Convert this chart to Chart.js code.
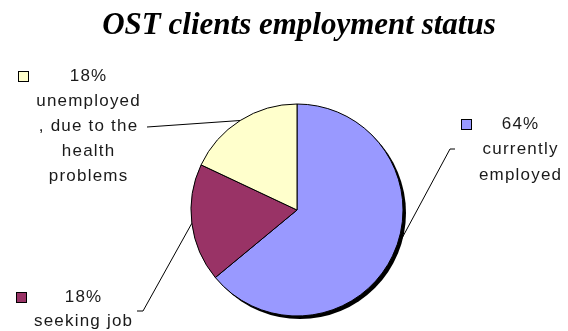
<!DOCTYPE html>
<html>
<head>
<meta charset="utf-8">
<script src="https://cdn.jsdelivr.net/npm/chart.js@4"></script>
<style>
  html, body { margin: 0; padding: 0; background: #fff; }
  #wrap { width: 568px; height: 331px; }
</style>
</head>
<body>
<div id="wrap"><canvas id="chart" width="568" height="331"></canvas></div>
<script>
// data
const categories = ["currently employed", "seeking job", "unemployed, due to the health problems"];
const shares = [64, 18, 18];
const colors = ["#9999FF", "#993366", "#FFFFCC"];

// label text lines (first line is the percent)
const labelLines = [
    ["64%", "currently", "employed"],
    ["18%", "seeking job"],
    ["18%", "unemployed", ", due to the", "health", "problems"]
];

// where each label block sits and where its leader line ends
const labelBox = [
    { keyX: 461, keyY: 119, textX: 520, textY: 124, lineH: 25.5, tail: [[450, 149], [455, 149]] },
    { keyX: 16, keyY: 292, textX: 83, textY: 297, lineH: 24, tail: [[143, 311], [137, 311]] },
    { keyX: 18, keyY: 71, textX: 88, textY: 76, lineH: 25, tail: [[147, 127]] }
];

const titleText = "OST clients employment status";

// shadow behind the pie
const shadowPlugin = {
    id: "pieShadow",
    beforeDatasetsDraw(chart) {
        const arc = chart.getDatasetMeta(0).data[0];
        if (!arc) return;
        const ctx = chart.ctx;
        ctx.save();
        ctx.fillStyle = "#000";
        ctx.beginPath();
        ctx.arc(arc.x + 3, arc.y + 3, arc.outerRadius, 0, Math.PI * 2);
        ctx.fill();
        ctx.restore();
    }
};

// title, labels and leader lines
const labelPlugin = {
    id: "pieLabels",
    afterDatasetsDraw(chart) {
        const ctx = chart.ctx;
        const meta = chart.getDatasetMeta(0);

        ctx.save();
        ctx.fillStyle = "#000";
        ctx.font = "italic bold 31px 'Liberation Serif', 'Times New Roman', serif";
        ctx.textAlign = "center";
        ctx.textBaseline = "alphabetic";
        ctx.fillText(titleText, 299, 34);

        meta.data.forEach((arc, i) => {
            const box = labelBox[i];
            const mid = (arc.startAngle + arc.endAngle) / 2;
            const px = arc.x + Math.cos(mid) * arc.outerRadius;
            const py = arc.y + Math.sin(mid) * arc.outerRadius;

            // leader line
            ctx.strokeStyle = "#000";
            ctx.lineWidth = 1;
            ctx.beginPath();
            ctx.moveTo(px, py);
            box.tail.forEach(p => ctx.lineTo(p[0], p[1]));
            ctx.stroke();

            // key square
            ctx.fillStyle = colors[i];
            ctx.fillRect(box.keyX + 0.5, box.keyY + 0.5, 10, 10);
            ctx.strokeRect(box.keyX + 0.5, box.keyY + 0.5, 10, 10);

            // text
            ctx.fillStyle = "#1a1a1a";
            ctx.font = "17px 'Liberation Sans', Arial, sans-serif";
            ctx.letterSpacing = "1.2px";
            ctx.textAlign = "center";
            ctx.textBaseline = "middle";
            labelLines[i].forEach((t, j) => {
                ctx.fillText(t, box.textX + 0.6, box.textY + j * box.lineH);
            });
            ctx.letterSpacing = "0px";
        });
        ctx.restore();
    }
};

new Chart(document.getElementById("chart"), {
    type: "pie",
    data: {
        labels: categories,
        datasets: [{
            data: shares,
            backgroundColor: colors,
            borderColor: "#000",
            borderWidth: 1
        }]
    },
    options: {
        responsive: false,
        animation: false,
        radius: 106,
        layout: { padding: { left: 200, right: 174, top: 110, bottom: 21 } },
        plugins: {
            legend: { display: false },
            tooltip: { enabled: false },
            title: { display: false }
        }
    },
    plugins: [shadowPlugin, labelPlugin]
});
</script>
</body>
</html>
